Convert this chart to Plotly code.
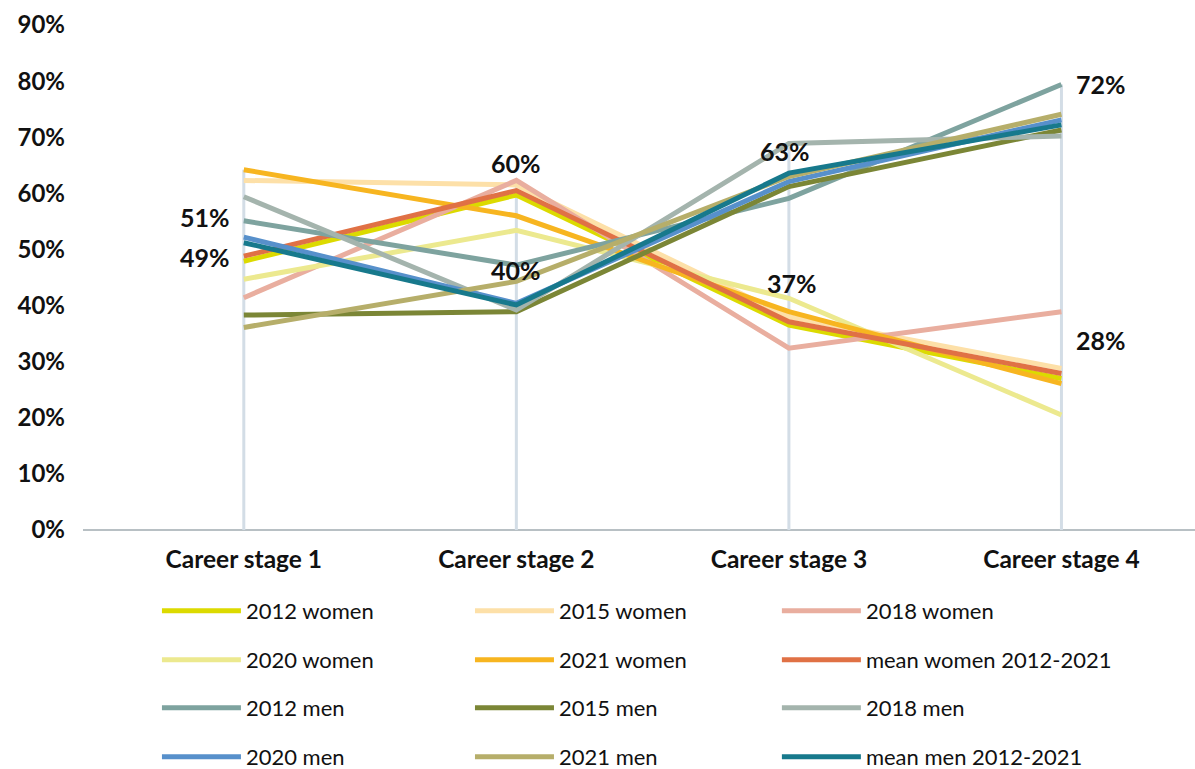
import plotly.graph_objects as go

categories = ["Career stage 1", "Career stage 2", "Career stage 3", "Career stage 4"]

series_names = [
    "2012 women", "2015 women", "2018 women",
    "2020 women", "2021 women", "mean women 2012-2021",
    "2012 men", "2015 men", "2018 men",
    "2020 men", "2021 men", "mean men 2012-2021",
]

w2012 = [47.9, 59.7, 36.5, 27.0]
w2015 = [62.3, 61.5, 38.0, 28.8]
w2018 = [41.4, 62.3, 32.4, 38.9]
w2020 = [44.7, 53.4, 41.3, 20.5]
w2021 = [64.2, 56.0, 38.9, 26.1]
w_mean = [48.8, 60.5, 37.1, 27.9]
m2012 = [55.1, 47.2, 59.1, 79.4]
m2015 = [38.3, 38.9, 61.2, 71.3]
m2018 = [59.4, 39.2, 68.9, 70.2]
m2020 = [52.2, 40.4, 62.1, 73.1]
m2021 = [36.1, 44.3, 63.0, 74.1]
m_mean = [51.2, 40.1, 63.6, 72.2]

series_values = [w2012, w2015, w2018, w2020, w2021, w_mean,
                 m2012, m2015, m2018, m2020, m2021, m_mean]

colors = ["#dcda00", "#fde0a8", "#e9ae9f",
          "#ece98f", "#f7b520", "#e07145",
          "#7ea39f", "#7b8636", "#a4b4ad",
          "#5790cb", "#b6ae6a", "#17798c"]

mean_women_labels = ["49%", "60%", "37%", "28%"]
mean_men_labels = ["51%", "40%", "63%", "72%"]

FONT = "Lato"
TXT = "#111111"

fig = go.Figure()

# drop lines from the highest value down to the axis
maxes = [max(s[i] for s in series_values) for i in range(len(categories))]
dx, dy = [], []
for c, m in zip(categories, maxes):
    dx += [c, c, None]
    dy += [0, m, None]
fig.add_trace(go.Scatter(x=dx, y=dy, mode="lines", line=dict(color="#d3dde6", width=3),
                         showlegend=False, hoverinfo="skip"))

# one legend per entry, laid out in a 3-column grid (container-referenced rows)
legend_cols_x = [0.0665, 0.348, 0.624]
legend_rows_y = [0.2055, 0.1417, 0.0793, 0.0156]
legend_layout = {}
for i in range(12):
    lid = "legend" if i == 0 else f"legend{i + 1}"
    legend_layout[lid] = dict(
        orientation="v", x=legend_cols_x[i % 3], y=legend_rows_y[i // 3],
        yref="container",
        xanchor="left", yanchor="middle",
        font=dict(size=22, family=FONT, color=TXT),
        bgcolor="rgba(0,0,0,0)", itemwidth=79,
    )
    fig.add_trace(go.Scatter(
        x=categories, y=series_values[i], name=series_names[i], mode="lines",
        line=dict(color=colors[i], width=5), legend=lid,
    ))

# labels for the means: (xanchor, xshift, yshift)
women_pos = [("right", -12, -1), ("center", 0, 28), ("center", 3, 39), ("left", 13, 33)]
men_pos = [("right", -12, 26), ("center", 0, 35), ("center", -4, 22), ("left", 13, 41)]
lab_font = dict(size=25, family=FONT, color=TXT, weight="bold")
for i, c in enumerate(categories):
    xa, xs, ys = women_pos[i]
    fig.add_annotation(x=c, y=w_mean[i], text=mean_women_labels[i], showarrow=False,
                       xanchor=xa, xshift=xs, yshift=ys, font=lab_font)
    xa, xs, ys = men_pos[i]
    fig.add_annotation(x=c, y=m_mean[i], text=mean_men_labels[i], showarrow=False,
                       xanchor=xa, xshift=xs, yshift=ys, font=lab_font)

fig.update_layout(
    autosize=True,
    margin=dict(l=83, r=0, t=25, b=239),
    paper_bgcolor="white", plot_bgcolor="white",
    font=dict(family=FONT, color=TXT),
    xaxis=dict(
        type="category", range=[-0.59, 3.49],
        showgrid=False, zeroline=False, showline=False,
        tickfont=dict(size=24.5, family=FONT, color=TXT, weight="bold"),
        ticks="", ticklabelstandoff=12,
    ),
    yaxis=dict(
        range=[0, 90], tickvals=[0, 10, 20, 30, 40, 50, 60, 70, 80, 90],
        ticktext=[f"{v}%" for v in range(0, 100, 10)],
        showgrid=False, zeroline=True, zerolinecolor="#b8c0c4", zerolinewidth=1.5,
        tickfont=dict(size=24, family=FONT, color=TXT, weight="bold"),
        ticks="", ticklabelstandoff=17,
    ),
    showlegend=True,
    **legend_layout,
)

fig.write_html(
    "out.html",
    config={"displayModeBar": False, "responsive": True},
    default_width="100vw", default_height="100vh",
    post_script=("document.documentElement.style.overflow='hidden';"
                 "document.body.style.margin='0';document.body.style.overflow='hidden';"
                 "Plotly.Plots.resize(document.getElementById('{plot_id}'));"),
)
